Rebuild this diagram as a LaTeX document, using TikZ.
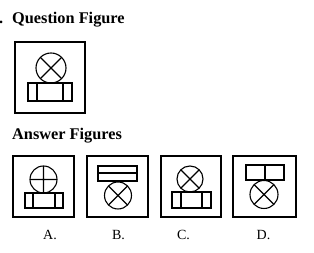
\documentclass[tikz,border=0pt]{standalone}
\usepackage{fontspec}
\setmainfont{Liberation Serif}
\begin{document}
\begin{tikzpicture}[x=1pt,y=-1pt,
  frame/.style={draw=black,line width=1.4pt},
  fig/.style={draw=black,line width=1.1pt},
  head/.style={font=\bfseries\fontsize{16.3}{18}\selectfont,anchor=base west,inner sep=0pt},
  lab/.style={font=\fontsize{14}{16}\selectfont,anchor=base,inner sep=0pt}]
\useasboundingbox (0,0) rectangle (314,253);
% headings
\node[head] (dot) at (-1,23.5) {.};
\node[head] (qh) at (12,23.5) {Question Figure};
\node[head] (ah) at (12,140) {Answer Figures};
% question figure
\node[frame,minimum width=70pt,minimum height=71pt,inner sep=0pt] (qf) at (50,77.5) {};
\draw[fig] (51,68) circle (15);
\draw[fig] (51,68) ++(45:15) -- ++(225:30) (51,68) ++(135:15) -- ++(315:30);
\draw[fig] (28,83) rectangle (72,101) (37,83) -- (37,101) (63,83) -- (63,101);
% answer frames
\node[frame,minimum width=61pt,minimum height=61pt,inner sep=0pt] (fa) at (43.5,186.5) {};
\node[frame,minimum width=61pt,minimum height=61pt,inner sep=0pt] (fb) at (117.5,186.5) {};
\node[frame,minimum width=60pt,minimum height=61pt,inner sep=0pt] (fc) at (191,186.5) {};
\node[frame,minimum width=63pt,minimum height=61pt,inner sep=0pt] (fd) at (264.5,186.5) {};
% A
\draw[fig] (43.5,179.5) circle (13.5) (30,179.5) -- (57,179.5) (43.5,166) -- (43.5,193);
\draw[fig] (25,193) rectangle (63,208) (33,193) -- (33,208) (55,193) -- (55,208);
% B
\draw[fig] (98,166) rectangle (137,181) (98,173) -- (137,173);
\draw[fig] (118,195.5) circle (13.5);
\draw[fig] (118,195.5) ++(45:13.5) -- ++(225:27) (118,195.5) ++(135:13.5) -- ++(315:27);
% C
\draw[fig] (190,179) circle (13);
\draw[fig] (190,179) ++(45:13) -- ++(225:26) (190,179) ++(135:13) -- ++(315:26);
\draw[fig] (172,192) rectangle (211,208) (181,192) -- (181,208) (202,192) -- (202,208);
% D
\draw[fig] (246,165) rectangle (284,180) (265,165) -- (265,180);
\draw[fig] (264,194.5) circle (14);
\draw[fig] (264,194.5) ++(45:14) -- ++(225:28) (264,194.5) ++(135:14) -- ++(315:28);
% labels
\node[lab] (la) at (50,240) {A.};
\node[lab] (lb) at (118.5,240) {B.};
\node[lab] (lc) at (183.5,240) {C.};
\node[lab] (ld) at (263.5,240) {D.};
\end{tikzpicture}
\end{document}
